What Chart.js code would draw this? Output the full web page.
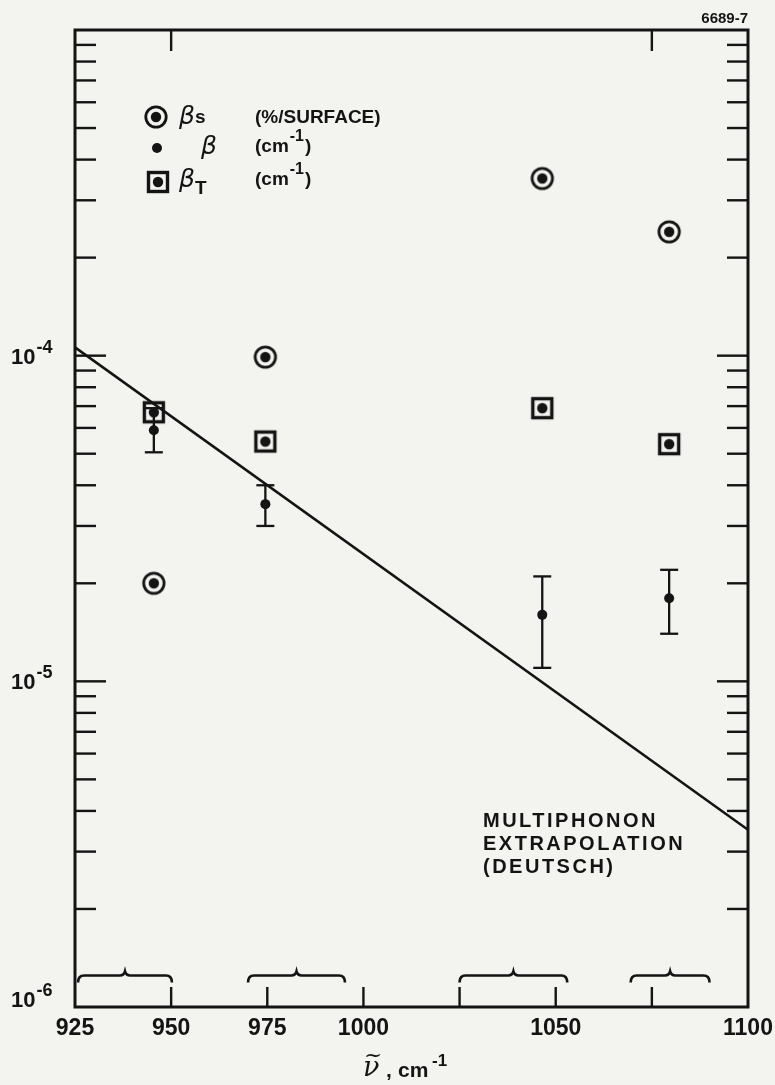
<!DOCTYPE html>
<html lang="en">
<head>
<meta charset="UTF-8">
<title>Absorption coefficients vs wavenumber</title>
<script src="https://cdn.jsdelivr.net/npm/chart.js@4.4.1/dist/chart.umd.min.js"></script>
<style>
  body { margin: 0; background: #f3f3f0; }
  #wrap { width: 775px; height: 1085px; position: relative; }
</style>
</head>
<body>
<div id="wrap"><canvas id="plot"></canvas></div>
<script>
// measured points (wavenumber in cm-1)
const waveNumbers = [945.5, 974.5, 1046.5, 1079.5];
const betaSurface = [2.0e-5, 9.9e-5, 3.5e-4, 2.4e-4];   // %/surface
const betaBulk = [5.9e-5, 3.5e-5, 1.6e-5, 1.8e-5];       // cm-1
const betaBulkLow = [5.05e-5, 3.0e-5, 1.1e-5, 1.4e-5];
const betaBulkHigh = [6.9e-5, 4.0e-5, 2.1e-5, 2.2e-5];
const betaTotal = [6.7e-5, 5.45e-5, 6.9e-5, 5.35e-5];    // cm-1

// multiphonon extrapolation (Deutsch)
const multiphononX = [925, 1100];
const multiphononY = [1.06e-4, 3.5e-6];

// axes
const xTicks = [925, 950, 975, 1000, 1025, 1050, 1075, 1100];
const xTickLabels = ['925', '950', '975', '1000', '', '1050', '', '1100'];
const topTicks = [950, 1075];
const decadeExps = [-6, -5, -4];
const labelExps = [-6, -5, -4];

// laser line groups, drawn as braces along the bottom
const bandFrom = [925.8, 970, 1025, 1069.5];
const bandTo = [950.2, 995.2, 1053, 1090];
const bandLevel = 1.25e-6;

const ink = '#141414';
const SANS = '"Liberation Sans", Arial, sans-serif';

function ringDot() {
  const c = document.createElement('canvas');
  c.width = c.height = 28;
  const g = c.getContext('2d');
  g.strokeStyle = ink; g.fillStyle = ink; g.lineWidth = 2.8;
  g.beginPath(); g.arc(14, 14, 10.2, 0, Math.PI * 2); g.stroke();
  g.beginPath(); g.arc(14, 14, 5.2, 0, Math.PI * 2); g.fill();
  return c;
}

function boxDot() {
  const c = document.createElement('canvas');
  c.width = c.height = 28;
  const g = c.getContext('2d');
  g.strokeStyle = ink; g.fillStyle = ink; g.lineWidth = 3.4;
  g.strokeRect(4.5, 4.5, 19, 19);
  g.beginPath(); g.arc(14, 14, 5.2, 0, Math.PI * 2); g.fill();
  return c;
}

const ringImg = ringDot();
const boxImg = boxDot();

function seg(ctx, x0, y0, x1, y1) {
  ctx.beginPath(); ctx.moveTo(x0, y0); ctx.lineTo(x1, y1); ctx.stroke();
}

// 10 with a superscript exponent
function power(ctx, x, base, exp, big, small, lift) {
  ctx.textAlign = 'left';
  ctx.textBaseline = 'alphabetic';
  ctx.font = 'bold ' + big + 'px ' + SANS;
  ctx.fillText('10', x, base);
  const w = ctx.measureText('10').width;
  ctx.font = 'bold ' + small + 'px ' + SANS;
  ctx.fillText('-' + Math.abs(exp), x + w + 1, base - lift);
}

const paper = {
  id: 'paper',
  beforeDraw(chart) {
    const ctx = chart.ctx;
    ctx.save();
    ctx.fillStyle = '#f3f3f0';
    ctx.fillRect(0, 0, chart.width, chart.height);
    ctx.restore();
  },
  beforeDatasetsDraw(chart) {
    const { ctx, chartArea: a, scales: { x, y } } = chart;
    ctx.save();
    ctx.strokeStyle = ink;
    ctx.fillStyle = ink;

    // frame
    ctx.lineWidth = 3;
    ctx.strokeRect(a.left, a.top, a.right - a.left, a.bottom - a.top);

    // log ticks on both vertical sides, pointing inward
    ctx.lineWidth = 2.4;
    decadeExps.forEach(d => {
      for (let m = 1; m <= 9; m++) {
        if (m === 1 && d === decadeExps[0]) continue;
        const py = y.getPixelForValue(m * Math.pow(10, d));
        const len = m === 1 ? 31 : 21;
        seg(ctx, a.left, py, a.left + len, py);
        seg(ctx, a.right, py, a.right - len, py);
      }
    });

    // bottom ticks up, top ticks down
    xTicks.forEach(v => {
      if (v === x.min || v === x.max) return;
      const px = x.getPixelForValue(v);
      seg(ctx, px, a.bottom, px, a.bottom - 20);
    });
    topTicks.forEach(v => {
      const px = x.getPixelForValue(v);
      seg(ctx, px, a.top, px, a.top + 21);
    });

    // braces over the laser line groups
    ctx.lineWidth = 2.6;
    const yb = y.getPixelForValue(bandLevel);
    bandFrom.forEach((f, i) => {
      const x0 = x.getPixelForValue(f);
      const x1 = x.getPixelForValue(bandTo[i]);
      const xc = (x0 + x1) / 2;
      ctx.beginPath();
      ctx.moveTo(x0, yb + 7);
      ctx.quadraticCurveTo(x0, yb, x0 + 6, yb);
      ctx.lineTo(xc - 5, yb);
      ctx.quadraticCurveTo(xc - 1, yb, xc, yb - 4);
      ctx.quadraticCurveTo(xc + 1, yb, xc + 5, yb);
      ctx.lineTo(x1 - 6, yb);
      ctx.quadraticCurveTo(x1, yb, x1, yb + 7);
      ctx.stroke();
    });

    // error bars on beta
    ctx.lineWidth = 2.3;
    waveNumbers.forEach((w, i) => {
      const px = x.getPixelForValue(w);
      const lo = y.getPixelForValue(betaBulkLow[i]);
      const hi = y.getPixelForValue(betaBulkHigh[i]);
      seg(ctx, px, lo, px, hi);
      seg(ctx, px - 9, lo, px + 9, lo);
      seg(ctx, px - 9, hi, px + 9, hi);
    });
    ctx.restore();
  },
  afterDatasetsDraw(chart) {
    const { ctx, chartArea: a, scales: { x, y } } = chart;
    ctx.save();
    ctx.fillStyle = ink;

    // y labels
    labelExps.forEach(e => {
      const py = y.getPixelForValue(Math.pow(10, e));
      const base = e === labelExps[0] ? a.bottom : py + 8;
      power(ctx, 11, base, e, 22, 18, 11);
    });

    // x labels
    ctx.font = 'bold 23px ' + SANS;
    ctx.textAlign = 'center';
    ctx.textBaseline = 'alphabetic';
    xTicks.forEach((v, i) => {
      if (!xTickLabels[i]) return;
      ctx.fillText(xTickLabels[i], x.getPixelForValue(v), a.bottom + 28);
    });

    // x title
    ctx.textAlign = 'left';
    ctx.font = 'italic 27px "DejaVu Serif", serif';
    ctx.fillText('\u03BD', 363, 1076);
    ctx.font = '22px "DejaVu Serif", serif';
    ctx.fillText('~', 364, 1062);
    ctx.font = 'bold 21px ' + SANS;
    ctx.fillText(',', 386, 1077);
    ctx.fillText('cm', 398, 1077);
    ctx.font = 'bold 17px ' + SANS;
    ctx.fillText('-1', 432, 1066);

    // figure number
    ctx.font = 'bold 15px ' + SANS;
    ctx.textAlign = 'right';
    ctx.fillText('6689-7', 748, 23);

    // legend
    ctx.textAlign = 'left';
    ctx.drawImage(ringImg, 156 - 14, 117 - 14);
    ctx.beginPath(); ctx.arc(157, 148, 5, 0, Math.PI * 2); ctx.fill();
    ctx.drawImage(boxImg, 158 - 14, 182 - 14);

    const greek = 'oblique 25px "DejaVu Sans", sans-serif';
    ctx.font = greek;
    ctx.fillText('\u03B2', 179, 124);
    ctx.fillText('\u03B2', 201, 154);
    ctx.fillText('\u03B2', 179, 187);
    ctx.font = 'bold 19px ' + SANS;
    ctx.fillText('s', 195, 123);
    ctx.font = 'bold 19px ' + SANS;
    ctx.fillText('T', 195, 194);

    ctx.font = 'bold 19px ' + SANS;
    ctx.fillText('(%/SURFACE)', 255, 123);
    [152, 185].forEach(b => {
      ctx.font = 'bold 19px ' + SANS;
      ctx.fillText('(cm', 255, b);
      const w = ctx.measureText('(cm').width;
      ctx.font = 'bold 16px ' + SANS;
      ctx.fillText('-1', 255 + w + 1, b - 11);
      const w2 = ctx.measureText('-1').width;
      ctx.font = 'bold 19px ' + SANS;
      ctx.fillText(')', 255 + w + w2 + 2, b);
    });

    // note under the extrapolation line
    ctx.font = 'bold 20px ' + SANS;
    ctx.letterSpacing = '2.5px';
    ctx.fillText('MULTIPHONON', 483, 827);
    ctx.fillText('EXTRAPOLATION', 483, 850);
    ctx.fillText('(DEUTSCH)', 483, 873);
    ctx.restore();
  }
};

const pts = ys => waveNumbers.map((w, i) => ({ x: w, y: ys[i] }));

new Chart(document.getElementById('plot'), {
  type: 'scatter',
  data: {
    datasets: [
      {
        label: 'Multiphonon extrapolation',
        data: multiphononX.map((v, i) => ({ x: v, y: multiphononY[i] })),
        showLine: true,
        borderColor: ink,
        borderWidth: 2.6,
        pointRadius: 0
      },
      {
        label: 'βs',
        data: pts(betaSurface),
        pointStyle: ringImg,
        pointRadius: 12
      },
      {
        label: 'βT',
        data: pts(betaTotal),
        pointStyle: boxImg,
        pointRadius: 12
      },
      {
        label: 'β',
        data: pts(betaBulk),
        pointStyle: 'circle',
        pointRadius: 5,
        backgroundColor: ink,
        borderWidth: 0
      }
    ]
  },
  options: {
    responsive: true,
    maintainAspectRatio: false,
    animation: false,
    layout: { padding: { left: 75, right: 27, top: 30, bottom: 78 } },
    plugins: { legend: { display: false }, tooltip: { enabled: false } },
    scales: {
      x: { type: 'linear', min: 925, max: 1100, display: false },
      y: { type: 'logarithmic', min: 1e-6, max: 1e-3, display: false }
    }
  },
  plugins: [paper]
});
</script>
</body>
</html>
